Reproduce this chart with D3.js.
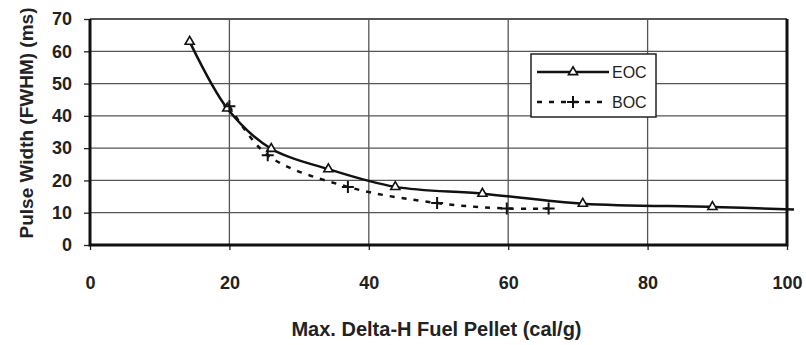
<!DOCTYPE html>
<html>
<head>
<meta charset="utf-8">
<script src="https://cdn.jsdelivr.net/npm/d3@7"></script>
<style>
  body { margin: 0; background: #fff; }
  text { font-family: "Liberation Sans", Arial, sans-serif; fill: #222; }
</style>
</head>
<body>
<div id="vis"></div>
<script>
const margin = {top: 19, right: 19, bottom: 100, left: 90};
const width = 806 - margin.left - margin.right;
const height = 345 - margin.top - margin.bottom;

// EOC series (triangles)
const eocX = [14.3, 19.7, 26.0, 34.2, 43.8, 56.3, 70.7, 89.3];
const eocY = [63.0, 42.3, 29.8, 23.5, 18.0, 15.9, 12.8, 11.8];
// the EOC curve runs on a little past the last marker
const eocTail = [101, 11.0];

// BOC series (crosses)
const bocX = [20.0, 25.5, 37.0, 49.8, 59.8, 65.8];
const bocY = [43.0, 27.8, 18.0, 13.0, 11.3, 11.3];

const xTicks = [0, 20, 40, 60, 80, 100];
const yTicks = [0, 10, 20, 30, 40, 50, 60, 70];
const seriesNames = ["EOC", "BOC"];

const svg = d3.select('#vis')
    .append('svg')
    .attr('width', width + margin.left + margin.right)
    .attr('height', height + margin.top + margin.bottom)
    .append('g')
    .attr('transform', `translate(${margin.left},${margin.top})`);

const xScale = d3.scaleLinear().domain([0, 100]).range([0, width]);
const yScale = d3.scaleLinear().domain([0, 70]).range([height, 0]);

// grid
svg.append("g")
    .selectAll("line.hgrid")
    .data(yTicks)
    .join("line")
    .attr("class", "hgrid")
    .attr("x1", 0).attr("x2", width)
    .attr("y1", d => yScale(d)).attr("y2", d => yScale(d))
    .attr("stroke", "#555")
    .attr("stroke-width", d => d === 70 ? 2 : 1.3);

svg.append("g")
    .selectAll("line.vgrid")
    .data(xTicks)
    .join("line")
    .attr("class", "vgrid")
    .attr("y1", 0).attr("y2", height)
    .attr("x1", d => xScale(d)).attr("x2", d => xScale(d))
    .attr("stroke", "#555")
    .attr("stroke-width", 1.3);

// axes
const xAxis = svg.append("g")
    .attr("transform", `translate(0,${height})`)
    .call(d3.axisBottom(xScale).tickValues(xTicks).tickSize(5).tickPadding(26));
const yAxis = svg.append("g")
    .call(d3.axisLeft(yScale).tickValues(yTicks).tickSize(6).tickPadding(12));

[xAxis, yAxis].forEach(a => {
    a.select(".domain").remove();
    a.selectAll(".tick line").attr("stroke", "#222").attr("stroke-width", 1.3);
    a.selectAll(".tick text")
        .style("font-size", "18px")
        .style("font-weight", "bold")
        .attr("fill", "#333");
});

// frame: thick left, bottom, right
svg.append("path")
    .attr("d", `M0,0V${height}H${width}V0`)
    .attr("fill", "none")
    .attr("stroke", "#111")
    .attr("stroke-width", 3);

// lines
const eocPts = eocX.map((x, i) => [x, eocY[i]]).concat([eocTail]);
const bocPts = bocX.map((x, i) => [x, bocY[i]]);

const line = d3.line()
    .x(d => xScale(d[0]))
    .y(d => yScale(d[1]))
    .curve(d3.curveCatmullRom.alpha(0.5));

svg.append("path")
    .datum(eocPts)
    .attr("d", line)
    .attr("fill", "none")
    .attr("stroke", "#111")
    .attr("stroke-width", 2.5);

svg.append("path")
    .datum(bocPts)
    .attr("d", line)
    .attr("fill", "none")
    .attr("stroke", "#111")
    .attr("stroke-width", 2.5)
    .attr("stroke-dasharray", "5 7");

const tri = d3.symbol().type(d3.symbolTriangle).size(36);
const cross = "M-6,0H6M0,-6V6";

svg.selectAll(".eoc-mark")
    .data(eocX.map((x, i) => [x, eocY[i]]))
    .join("path")
    .attr("class", "eoc-mark")
    .attr("transform", d => `translate(${xScale(d[0])},${yScale(d[1])})`)
    .attr("d", tri)
    .attr("fill", "#fff")
    .attr("stroke", "#111")
    .attr("stroke-width", 1.6);

svg.selectAll(".boc-mark")
    .data(bocPts)
    .join("path")
    .attr("class", "boc-mark")
    .attr("transform", d => `translate(${xScale(d[0])},${yScale(d[1])})`)
    .attr("d", cross)
    .attr("stroke", "#111")
    .attr("stroke-width", 2);

// legend
const legend = svg.append("g")
    .attr("transform", `translate(${531 - margin.left},${54 - margin.top})`);
legend.append("rect")
    .attr("width", 125).attr("height", 63)
    .attr("fill", "#fff")
    .attr("stroke", "#222")
    .attr("stroke-width", 1.5);

seriesNames.forEach((name, i) => {
    const y = 18 + i * 30;
    const g = legend.append("g").attr("transform", `translate(0,${y})`);
    g.append("line")
        .attr("x1", 6).attr("x2", 78).attr("y1", 0).attr("y2", 0)
        .attr("stroke", "#111").attr("stroke-width", 2.5)
        .attr("stroke-dasharray", i === 0 ? null : "5 7");
    g.append("path")
        .attr("transform", "translate(42,0)")
        .attr("d", i === 0 ? tri : cross)
        .attr("fill", "#fff")
        .attr("stroke", "#111")
        .attr("stroke-width", i === 0 ? 1.6 : 2);
    g.append("text")
        .attr("x", 81).attr("y", 6)
        .style("font-size", "16px")
        .attr("fill", "#333")
        .text(name);
});

// axis titles
svg.append("text")
    .attr("text-anchor", "middle")
    .attr("x", width / 2 - 2)
    .attr("y", height + 91)
    .style("font-size", "20px")
    .style("font-weight", "bold")
    .attr("fill", "#333")
    .text("Max. Delta-H Fuel Pellet (cal/g)");

svg.append("text")
    .attr("text-anchor", "middle")
    .attr("transform", "rotate(-90)")
    .attr("x", -height / 2 + 9)
    .attr("y", -margin.left + 33)
    .style("font-size", "19px")
    .style("font-weight", "bold")
    .attr("fill", "#333")
    .text("Pulse Width (FWHM) (ms)");
</script>
</body>
</html>
